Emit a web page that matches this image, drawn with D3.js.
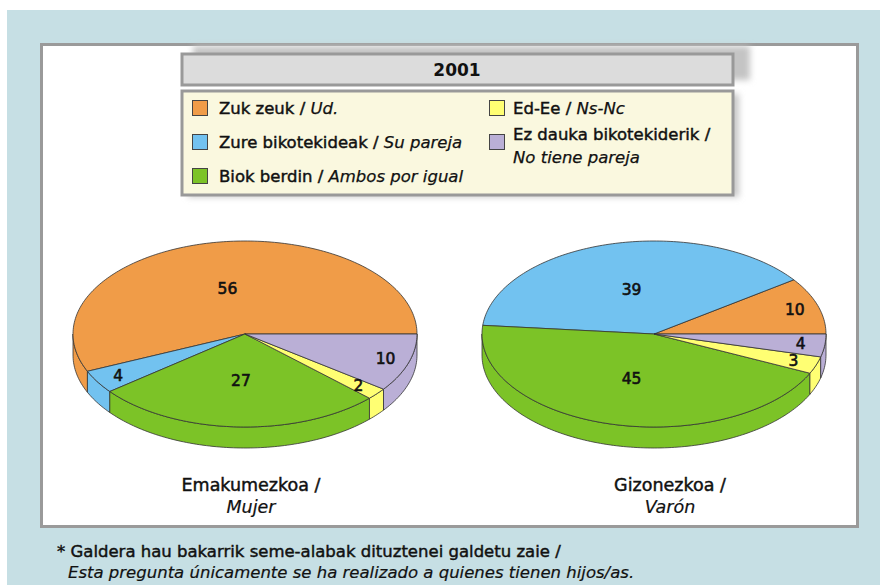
<!DOCTYPE html>
<html>
<head>
<meta charset="utf-8">
<script src="https://cdn.jsdelivr.net/npm/d3@7"></script>
<style>
  body { margin: 0; background: #fff; }
  svg { display: block; }
  text { font-family: "DejaVu Sans", "Open Sans", sans-serif; fill: #111; stroke: #111; stroke-width: 0.45px; }
</style>
</head>
<body>
<script>
const width = 880, height = 585;

// categories, in legend order
const categories = ["ud", "pareja", "ambos", "nsnc", "sinpareja"];
const labelsEu = ["Zuk zeuk", "Zure bikotekideak", "Biok berdin", "Ed-Ee", "Ez dauka bikotekiderik"];
const labelsEs = ["Ud.", "Su pareja", "Ambos por igual", "Ns-Nc", "No tiene pareja"];
const colors = ["#f09c48", "#72c2f0", "#7cc327", "#ffff73", "#baafd6"];

// values
const mujer = [56, 4, 27, 2, 10];
const varon = [10, 39, 45, 3, 4];

const pies = [
  { values: mujer, eu: "Emakumezkoa /", es: "Mujer", cx: 245, tx: 251 },
  { values: varon, eu: "Gizonezkoa /", es: "Varón", cx: 654, tx: 670 }
];

const svg = d3.select("body").append("svg")
  .attr("width", width)
  .attr("height", height);

const defs = svg.append("defs");
defs.append("filter").attr("id", "blur").attr("x", "-20%").attr("y", "-20%")
  .attr("width", "140%").attr("height", "140%")
  .append("feGaussianBlur").attr("stdDeviation", 3);

// background
svg.append("rect").attr("width", width).attr("height", height).attr("fill", "#fff");
svg.append("rect").attr("x", 7).attr("y", 10).attr("width", width - 7).attr("height", height - 10)
  .attr("fill", "#c6dfe4");

// white panel
svg.append("rect").attr("x", 41.5).attr("y", 44.5).attr("width", 816).attr("height", 482)
  .attr("fill", "#fff").attr("stroke", "#9a9a9a").attr("stroke-width", 3);

// title box with shadow
svg.append("rect").attr("x", 193).attr("y", 46).attr("width", 557).attr("height", 34)
  .attr("fill", "#c4c4c4").attr("filter", "url(#blur)");
svg.append("rect").attr("x", 182).attr("y", 54).attr("width", 551).attr("height", 31)
  .attr("fill", "#dcdcdc").attr("stroke", "#999").attr("stroke-width", 3);
svg.append("text").attr("x", 457).attr("y", 76).attr("text-anchor", "middle")
  .style("font-size", "17px").style("font-weight", 700).style("stroke-width", 0).text("2001");

// legend box
svg.append("rect").attr("x", 188).attr("y", 94).attr("width", 551).attr("height", 103)
  .attr("fill", "#c8c8c8").attr("filter", "url(#blur)");
svg.append("rect").attr("x", 182).attr("y", 91).attr("width", 551).attr("height", 104)
  .attr("fill", "#faf8df").attr("stroke", "#999").attr("stroke-width", 3);

const legendPos = [
  { x: 192, y: 100 }, { x: 192, y: 134 }, { x: 192, y: 168 },
  { x: 489, y: 100 }, { x: 489, y: 134 }
];

const legend = svg.append("g").selectAll("g")
  .data(categories)
  .enter().append("g")
  .attr("transform", (d, i) => `translate(${legendPos[i].x},${legendPos[i].y})`);

legend.append("rect")
  .attr("x", 0.5).attr("y", 0.5).attr("width", 15).attr("height", 15)
  .attr("fill", (d, i) => colors[i]).attr("stroke", "#444").attr("stroke-width", 1);

legend.each(function (d, i) {
  const g = d3.select(this);
  const tx = i < 3 ? 27 : 24;
  if (i === 4) {
    g.append("text").attr("x", tx).attr("y", 6).style("font-size", "16.5px").text(labelsEu[i] + " /");
    g.append("text").attr("x", tx).attr("y", 29).style("font-size", "16.5px")
      .style("font-style", "italic").style("stroke-width", 0.25).text(labelsEs[i]);
  } else {
    const t = g.append("text").attr("x", tx).attr("y", 14).style("font-size", "16.5px");
    t.append("tspan").text(labelsEu[i] + " / ");
    t.append("tspan").style("font-style", "italic").style("stroke-width", 0.25).text(labelsEs[i]);
  }
});

// 3D pies
const rx = 172, ry = 93, depth = 21, cy = 334;
const TAU = Math.PI * 2;

const pie = d3.pie().sort(null).value(d => d);

function pt(cx, th, dy) {
  return [cx + rx * Math.cos(th), cy + ry * Math.sin(th) + (dy || 0)];
}

function arcPoints(cx, t0, t1, dy) {
  const n = Math.max(2, Math.ceil(Math.abs(t1 - t0) / 0.02));
  const pts = [];
  for (let k = 0; k <= n; k++) pts.push(pt(cx, t0 + (t1 - t0) * k / n, dy));
  return pts;
}

const line = d3.line();

pies.forEach(p => {
  const g = svg.append("g");
  const arcs = pie(p.values);

  // slices go counter-clockwise on screen from 3 o'clock
  const slices = arcs.map((a, i) => {
    const span = a.endAngle - a.startAngle;
    let lo = ((-a.endAngle) % TAU + TAU) % TAU;
    if (lo > TAU - 1e-9) lo = 0;
    return { i, lo, hi: lo + span, value: a.data, mid: lo + span / 2 };
  });

  // side walls on the front half
  slices.forEach(s => {
    [[0, Math.PI], [TAU, TAU + Math.PI]].forEach(([f0, f1]) => {
      const s0 = Math.max(s.lo, f0), s1 = Math.min(s.hi, f1);
      if (s1 - s0 <= 1e-6) return;
      const top = arcPoints(p.cx, s0, s1, 0);
      const bot = arcPoints(p.cx, s1, s0, depth);
      g.append("path")
        .attr("d", line(top.concat(bot)) + "Z")
        .attr("fill", colors[s.i])
        .attr("stroke", "#333").attr("stroke-width", 0.8).attr("stroke-linejoin", "round");
    });
  });

  // top surface
  slices.forEach(s => {
    const pts = [[p.cx, cy]].concat(arcPoints(p.cx, s.lo, s.hi, 0));
    g.append("path")
      .attr("d", line(pts) + "Z")
      .attr("fill", colors[s.i])
      .attr("stroke", "#333").attr("stroke-width", 0.8).attr("stroke-linejoin", "round");
  });

  // value labels
  slices.forEach(s => {
    const f = s.value < 15 ? 0.86 : 0.5;
    g.append("text")
      .attr("x", p.cx + rx * f * Math.cos(s.mid))
      .attr("y", cy + ry * f * Math.sin(s.mid))
      .attr("dy", "0.35em")
      .attr("text-anchor", "middle")
      .style("font-size", "15.5px")
      .style("stroke-width", 0.6)
      .text(s.value);
  });

  // captions
  svg.append("text").attr("x", p.tx).attr("y", 491).attr("text-anchor", "middle")
    .style("font-size", "17.5px").text(p.eu);
  svg.append("text").attr("x", p.tx).attr("y", 513).attr("text-anchor", "middle")
    .style("font-size", "17.5px").style("font-style", "italic").style("stroke-width", 0.2).text(p.es);
});

// footnote
svg.append("text").attr("x", 57).attr("y", 557)
  .style("font-size", "16.5px")
  .text("* Galdera hau bakarrik seme-alabak dituztenei galdetu zaie /");
svg.append("text").attr("x", 68).attr("y", 578)
  .style("font-size", "16.5px").style("font-style", "italic").style("stroke-width", 0.2)
  .text("Esta pregunta únicamente se ha realizado a quienes tienen hijos/as.");
</script>
</body>
</html>
